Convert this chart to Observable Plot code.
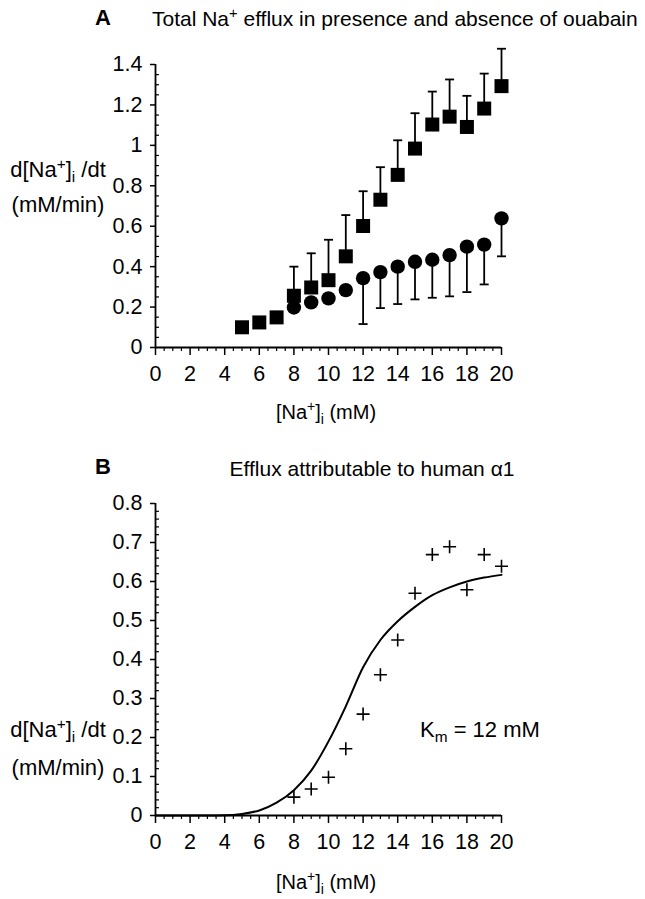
<!DOCTYPE html>
<html>
<head>
<meta charset="utf-8">
<script src="https://cdn.jsdelivr.net/npm/d3@7"></script>
<script src="https://cdn.jsdelivr.net/npm/@observablehq/plot@0.6"></script>
<style>
  body { margin: 0; background: #fff; }
  #wrap { position: relative; width: 645px; height: 899px; font-family: "Liberation Sans", Arial, sans-serif; color: #000; overflow: hidden; background: #fff; }
  .t { position: absolute; white-space: nowrap; line-height: 1; z-index: 2; }
  .c { transform: translate(-50%, -50%); }
  .l { transform: translate(0, -50%); }
  .sup { font-size: 0.7em; position: relative; top: -0.55em; }
  .sub { font-size: 0.7em; position: relative; top: 0.35em; }
  .svgbox { position: absolute; left: 0; z-index: 1; }
</style>
</head>
<body>
<div id="wrap">
  <div id="plotA" class="svgbox" style="top:40px;"></div>
  <div id="plotB" class="svgbox" style="top:480px;"></div>

  <div class="t l" style="left:95px;top:18px;font-size:22px;font-weight:bold;">A</div>
  <div class="t l" style="left:152px;top:18px;font-size:21px;">Total Na<span class="sup">+</span> efflux in presence and absence of ouabain</div>
  <div class="t c" style="left:58px;top:170px;font-size:22px;">d[Na<span class="sup">+</span>]<span class="sub">i</span> /dt</div>
  <div class="t c" style="left:58px;top:205px;font-size:22px;">(mM/min)</div>
  <div class="t c" style="left:326px;top:412px;font-size:20px;">[Na<span class="sup">+</span>]<span class="sub">i</span> (mM)</div>

  <div class="t l" style="left:95px;top:467px;font-size:22px;font-weight:bold;">B</div>
  <div class="t c" style="left:372px;top:468px;font-size:21px;">Efflux attributable to human α1</div>
  <div class="t c" style="left:58px;top:730px;font-size:22px;">d[Na<span class="sup">+</span>]<span class="sub">i</span> /dt</div>
  <div class="t c" style="left:58px;top:768px;font-size:22px;">(mM/min)</div>
  <div class="t c" style="left:326px;top:882px;font-size:20px;">[Na<span class="sup">+</span>]<span class="sub">i</span> (mM)</div>
  <div class="t l" style="left:420px;top:730px;font-size:22px;">K<span class="sub">m</span> = 12 mM</div>
</div>
<script>
// ---------- Data ----------
// Panel A: total Na+ efflux (squares, error bars upward)
const totalNa = [5, 6, 7, 8, 9, 10, 11, 12, 13, 14, 15, 16, 17, 18, 19, 20];
const totalEfflux = [0.10, 0.124, 0.149, 0.256, 0.297, 0.333, 0.451, 0.601, 0.731, 0.854, 0.984, 1.103, 1.142, 1.091, 1.182, 1.293];
const totalErrTop = [null, null, null, 0.40, 0.466, 0.533, 0.655, 0.773, 0.892, 1.025, 1.159, 1.266, 1.326, 1.245, 1.355, 1.478];
// Panel A: efflux in presence of ouabain (circles, error bars downward)
const ouabainNa = [8, 9, 10, 11, 12, 13, 14, 15, 16, 17, 18, 19, 20];
const ouabainEfflux = [0.198, 0.223, 0.243, 0.284, 0.343, 0.373, 0.40, 0.424, 0.434, 0.457, 0.499, 0.509, 0.639];
const ouabainErrLow = [null, null, null, null, 0.116, 0.195, 0.215, 0.238, 0.246, 0.253, 0.274, 0.312, 0.451];
// Panel B: efflux attributable to human alpha1 (crosses)
const alphaNa = [8, 9, 10, 11, 12, 13, 14, 15, 16, 17, 18, 19, 20];
const alphaEfflux = [0.047, 0.068, 0.098, 0.171, 0.26, 0.361, 0.45, 0.57, 0.669, 0.689, 0.579, 0.669, 0.639];
// Panel B: fitted curve
const fitNa = [0, 2, 4, 5, 6, 7, 8, 9, 10, 11, 12, 13, 14, 15, 16, 17, 18, 19, 20];
const fitEfflux = [0, 0, 0.0005, 0.004, 0.013, 0.033, 0.065, 0.115, 0.19, 0.28, 0.38, 0.45, 0.498, 0.535, 0.565, 0.585, 0.6, 0.61, 0.617];
// Tick labels
const xTicks = [0, 2, 4, 6, 8, 10, 12, 14, 16, 18, 20];
const yTicksA = [0, 0.2, 0.4, 0.6, 0.8, 1, 1.2, 1.4];
const yTicksB = [0, 0.1, 0.2, 0.3, 0.4, 0.5, 0.6, 0.7, 0.8];

// ---------- Build tables ----------
const totalData = totalNa.map((x, i) => ({x, y: totalEfflux[i], top: totalErrTop[i]}));
const ouabainData = ouabainNa.map((x, i) => ({x, y: ouabainEfflux[i], low: ouabainErrLow[i]}));
const alphaData = alphaNa.map((x, i) => ({x, y: alphaEfflux[i]}));
const fitData = fitNa.map((x, i) => ({x, y: fitEfflux[i]}));

const xMinor = d3.range(0, 20.001, 0.5).filter(v => v % 2 !== 0);
const yMinorA = d3.range(0, 1.4001, 0.05).map(v => +v.toFixed(3)).filter(v => Math.abs(v * 5 - Math.round(v * 5)) > 1e-6);
const yMinorB = d3.range(0, 0.8001, 0.02).map(v => +v.toFixed(3)).filter(v => Math.abs(v * 10 - Math.round(v * 10)) > 1e-6);

// ---------- Custom symbols ----------
const capSymbol = {draw(ctx) { ctx.moveTo(-4.5, 0); ctx.lineTo(4.5, 0); }};
const crossSymbol = {draw(ctx) { ctx.moveTo(-6.5, 0); ctx.lineTo(6.5, 0); ctx.moveTo(0, -6.5); ctx.lineTo(0, 6.5); }};
const innerTick = {draw(ctx) { ctx.moveTo(0, 0); ctx.lineTo(3.5, 0); }};

const fmt = d3.format("~g");
const style = {fontFamily: "'Liberation Sans', Arial, sans-serif", fontSize: "21.5px", color: "black", background: "transparent", overflow: "visible"};

function axes(yTicks, yMinor) {
  return [
    Plot.axisX({ticks: xMinor, tickSize: 4, tickFormat: () => "", label: null, strokeWidth: 1.2}),
    Plot.axisX({ticks: xTicks, tickSize: 8, tickPadding: 10, label: null, strokeWidth: 1.5, tickFormat: fmt, fontSize: 21.5}),
    Plot.axisY({ticks: yTicks, tickSize: 5, tickPadding: 8, label: null, strokeWidth: 1.5, tickFormat: fmt, fontSize: 21.5}),
    Plot.dot(yMinor, {x: 0, y: d => d, symbol: innerTick, stroke: "black", fill: "none", strokeWidth: 1.2}),
    Plot.ruleY([0], {stroke: "black", strokeWidth: 1.8}),
    Plot.ruleX([0], {stroke: "black", strokeWidth: 1.8})
  ];
}

const plotA = Plot.plot({
  width: 645, height: 390,
  marginLeft: 155, marginRight: 144, marginTop: 24, marginBottom: 83,
  x: {domain: [0, 20]},
  y: {domain: [0, 1.4]},
  style,
  marks: [
    ...axes(yTicksA, yMinorA),
    Plot.ruleX(totalData.filter(d => d.top != null), {x: "x", y1: "y", y2: "top", stroke: "black", strokeWidth: 1.8}),
    Plot.dot(totalData.filter(d => d.top != null), {x: "x", y: "top", symbol: capSymbol, stroke: "black", fill: "none", strokeWidth: 1.8}),
    Plot.ruleX(ouabainData.filter(d => d.low != null), {x: "x", y1: "y", y2: "low", stroke: "black", strokeWidth: 1.8}),
    Plot.dot(ouabainData.filter(d => d.low != null), {x: "x", y: "low", symbol: capSymbol, stroke: "black", fill: "none", strokeWidth: 1.8}),
    Plot.dot(ouabainData, {x: "x", y: "y", symbol: "circle", r: 7.2, fill: "black", stroke: "none"}),
    Plot.dot(totalData, {x: "x", y: "y", symbol: "square", r: 7.9, fill: "black", stroke: "none"})
  ]
});
document.getElementById("plotA").appendChild(plotA);

const plotB = Plot.plot({
  width: 645, height: 419,
  marginLeft: 155, marginRight: 144, marginTop: 23, marginBottom: 84,
  x: {domain: [0, 20]},
  y: {domain: [0, 0.8]},
  style,
  marks: [
    ...axes(yTicksB, yMinorB),
    Plot.line(fitData, {x: "x", y: "y", curve: "monotone-x", stroke: "black", strokeWidth: 2}),
    Plot.dot(alphaData, {x: "x", y: "y", symbol: crossSymbol, stroke: "black", fill: "none", strokeWidth: 1.6})
  ]
});
document.getElementById("plotB").appendChild(plotB);
</script>
</body>
</html>
